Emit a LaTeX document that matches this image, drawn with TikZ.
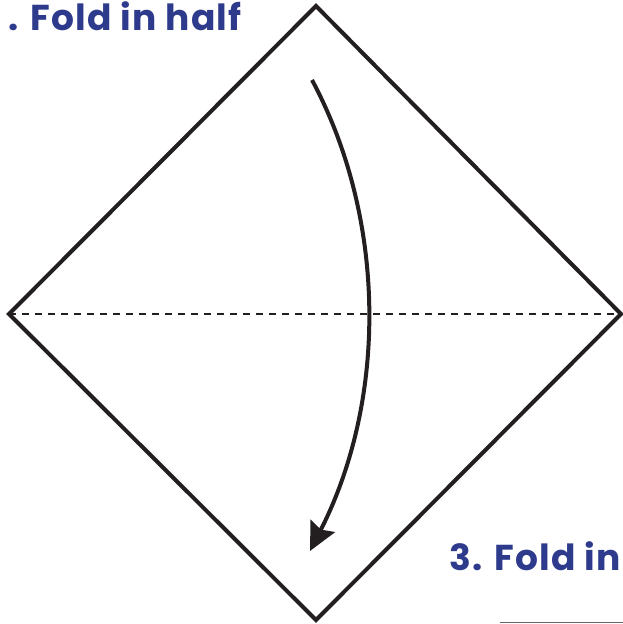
\documentclass[tikz,border=0pt]{standalone}
\usepackage{fontspec}
\usepackage{xcolor}
\usetikzlibrary{arrows.meta, positioning}
\newfontfamily\stepfont{Poppins}[LetterSpace=3.5]
\definecolor{foldBlue}{HTML}{2E3A8C}
\definecolor{foldInk}{HTML}{231F20}
\tikzset{
  paper/.style={draw=foldInk, line width=4pt, line join=miter},
  foldline/.style={draw=foldInk, line width=2pt, dash pattern=on 7pt off 6pt},
  foldarrow/.style={draw=foldInk, line width=4pt,
    -{Stealth[length=28pt, width=27pt, inset=4pt]}},
  steplabel/.style={font=\stepfont\bfseries\fontsize{36}{40}\selectfont,
    text=foldBlue, inner sep=0pt, anchor=base west},
  rule/.style={draw=black!60, line width=1.5pt}
}
\begin{document}
\begin{tikzpicture}[x=1pt, y=-1pt]
  \useasboundingbox (0,0) rectangle (623,624);
  % paper square turned on its corner
  \coordinate (top) at (316,6);
  \coordinate (left) at (9,314);
  \coordinate (right) at (621,314);
  \coordinate (bottom) at (316,620);
  \draw[paper] (top) -- (right) -- (bottom) -- (left) -- cycle;
  \draw[foldline] (left) -- (right);
  % fold arrow
  \coordinate (from) at (312,80);
  \coordinate (to) at (310,551);
  \draw[foldarrow] (from) .. controls (387,220) and (387,400) .. (to);
  % step labels
  \node[steplabel] (halfstep) at (8,30) {. Fold in half};
  \node[steplabel] (nextstep) at (449,570) {3. Fold in};
  \coordinate (ruleA) at (500,622.5);
  \coordinate (ruleB) at (623,622.5);
  \draw[rule] (ruleA) -- (ruleB);
\end{tikzpicture}
\end{document}
